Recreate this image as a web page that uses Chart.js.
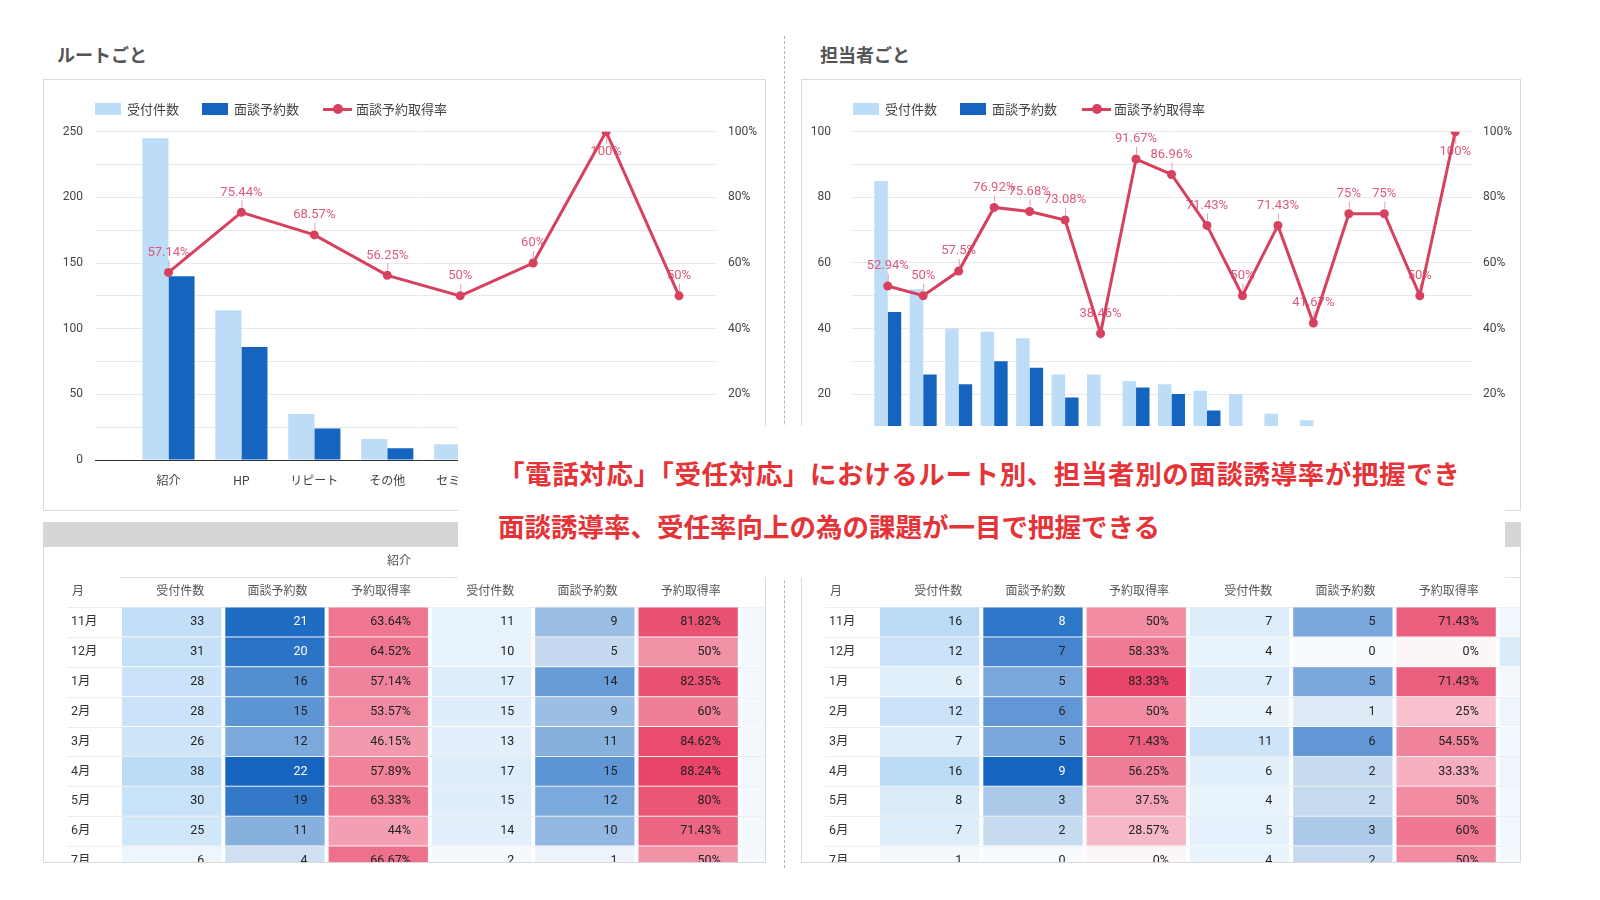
<!DOCTYPE html>
<html lang="ja">
<head>
<meta charset="utf-8">
<title>ルートごと / 担当者ごと</title>
<script src="https://cdn.jsdelivr.net/npm/chart.js@4.4.0/dist/chart.umd.min.js"></script>
<style>
  html, body { margin: 0; padding: 0; background: #fff; }
  body { width: 1600px; height: 900px; position: relative; overflow: hidden; font-family: "Noto Sans CJK JP", sans-serif; }
  .abs { position: absolute; }
  .frame { position: absolute; border: 1px solid #d9d9d9; box-sizing: border-box; }
  .title { position: absolute; font-size: 18px; font-weight: 700; color: #555; line-height: 1; white-space: nowrap; }
  .lg-box { position: absolute; width: 26px; height: 12px; }
  .lg-txt { position: absolute; font-size: 13px; color: #444; line-height: 18px; white-space: nowrap; }
  .lg-line { position: absolute; width: 29px; height: 3px; background: #d8405f; }
  .lg-dot { position: absolute; width: 10px; height: 10px; border-radius: 50%; background: #d8405f; }
  .clip { position: absolute; overflow: hidden; }
  .banner { position: absolute; background: #fff; z-index: 10; }
  .banner div { position: absolute; left: 40px; font-size: 26.5px; font-weight: 700; color: #e53338; line-height: 1; white-space: nowrap; }
</style>
</head>
<body>

<div class="abs" style="left:784px;top:36px;height:832px;border-left:1px dashed #b5b5b5;"></div>

<div class="title" style="left:57px;top:45px;">ルートごと</div>
<div class="title" style="left:820px;top:45px;">担当者ごと</div>

<div class="frame" style="left:43px;top:79px;width:723px;height:432px;"></div>
<div class="frame" style="left:801px;top:79px;width:720px;height:432px;"></div>

<canvas id="routeChart" class="abs" width="722" height="431" style="left:43px;top:79px;"></canvas>
<canvas id="staffChart" class="abs" width="719" height="431" style="left:801px;top:79px;"></canvas>

<!-- legends -->
<div class="lg-box" style="left:95px;top:103px;background:#bcdcf7;"></div>
<div class="lg-txt" style="left:127px;top:100px;">受付件数</div>
<div class="lg-box" style="left:202px;top:103px;background:#1565c0;"></div>
<div class="lg-txt" style="left:234px;top:100px;">面談予約数</div>
<div class="lg-line" style="left:323px;top:108px;"></div>
<div class="lg-dot" style="left:333px;top:104px;"></div>
<div class="lg-txt" style="left:356px;top:100px;">面談予約取得率</div>

<div class="lg-box" style="left:853px;top:103px;background:#bcdcf7;"></div>
<div class="lg-txt" style="left:885px;top:100px;">受付件数</div>
<div class="lg-box" style="left:960px;top:103px;background:#1565c0;"></div>
<div class="lg-txt" style="left:992px;top:100px;">面談予約数</div>
<div class="lg-line" style="left:1082px;top:108px;"></div>
<div class="lg-dot" style="left:1092px;top:104px;"></div>
<div class="lg-txt" style="left:1114px;top:100px;">面談予約取得率</div>

<!-- tables -->
<div class="frame" style="left:43px;top:522px;width:723px;height:341px;"></div>
<div class="abs" style="left:43px;top:522px;width:723px;height:25px;background:#d6d6d6;"></div>
<div class="clip" style="left:43px;top:547px;width:722px;height:315px;">
  <canvas id="routeTable" width="722" height="333"></canvas>
</div>

<div class="frame" style="left:801px;top:522px;width:720px;height:341px;"></div>
<div class="abs" style="left:801px;top:522px;width:720px;height:25px;background:#d6d6d6;"></div>
<div class="clip" style="left:801px;top:547px;width:719px;height:315px;">
  <canvas id="staffTable" width="719" height="333"></canvas>
</div>

<div class="banner" style="left:458px;top:426px;width:1047px;height:152px;">
  <div style="top:34px;letter-spacing:0.6px;">「電話対応」「受任対応」におけるルート別、担当者別の面談誘導率が把握でき</div>
  <div style="top:87px;">面談誘導率、受任率向上の為の課題が一目で把握できる</div>
</div>

<script>
// ---- data ----
const routeLabels = ["紹介", "HP", "リピート", "その他", "セミナー", "広告", "SNS", "チラシ"];
const routeIntake = [245, 114, 35, 16, 12, 5, 2, 2];
const routeBooked = [140, 86, 24, 9, 6, 3, 2, 1];
const routeRate = [57.14, 75.44, 68.57, 56.25, 50, 60, 100, 50];

const staffLabels = ["担当A", "担当B", "担当C", "担当D", "担当E", "担当F", "担当G", "担当H", "担当I",
  "担当J", "担当K", "担当L", "担当M", "担当N", "担当O", "担当P", "担当Q"];
const staffIntake = [85, 52, 40, 39, 37, 26, 26, 24, 23, 21, 20, 14, 12, 8, 8, 4, 2];
const staffBooked = [45, 26, 23, 30, 28, 19, 10, 22, 20, 15, 10, 10, 5, 6, 6, 2, 2];
const staffRate = [52.94, 50, 57.5, 76.92, 75.68, 73.08, 38.46, 91.67, 86.96, 71.43, 50, 71.43, 41.67, 75, 75, 50, 100];

const routeCountTicks = [0, 50, 100, 150, 200, 250];
const staffCountTicks = [0, 20, 40, 60, 80, 100];
const pctTicks = [0, 20, 40, 60, 80, 100];

const tableMonths = ["11月", "12月", "1月", "2月", "3月", "4月", "5月", "6月", "7月"];
const monthHeader = "月";
const tableHeaders = ["受付件数", "面談予約数", "予約取得率"];

// ルート別 (紹介 / HP / ...)
const routeGroups = ["紹介", "HP"];
const tIntakeA = [33, 31, 28, 28, 26, 38, 30, 25, 6];
const tBookedA = [21, 20, 16, 15, 12, 22, 19, 11, 4];
const tRateA = [63.64, 64.52, 57.14, 53.57, 46.15, 57.89, 63.33, 44, 66.67];
const tIntakeB = [11, 10, 17, 15, 13, 17, 15, 14, 2];
const tBookedB = [9, 5, 14, 9, 11, 15, 12, 10, 1];
const tRateB = [81.82, 50, 82.35, 60, 84.62, 88.24, 80, 71.43, 50];
const tIntakeC = [4, 3, 5, 4, 3, 5, 4, 3, 2];

// 担当者別
const staffGroups = ["", ""];
const sIntakeA = [16, 12, 6, 12, 7, 16, 8, 7, 1];
const sBookedA = [8, 7, 5, 6, 5, 9, 3, 2, 0];
const sRateA = [50, 58.33, 83.33, 50, 71.43, 56.25, 37.5, 28.57, 0];
const sIntakeB = [7, 4, 7, 4, 11, 6, 4, 5, 4];
const sBookedB = [5, 0, 5, 1, 6, 2, 2, 3, 2];
const sRateB = [71.43, 0, 71.43, 25, 54.55, 33.33, 50, 60, 50];
const sIntakeC = [2, 8, 1, 3, 2, 3, 2, 2, 1];

// ---- styles ----
const LIGHT = "#bcdcf7";
const DARK = "#1565c0";
const RED = "#d8405f";
const LABEL_RED = "#dc5b7a";
const FONT = 'Roboto, "Noto Sans CJK JP", sans-serif';

Chart.defaults.font.family = FONT;
Chart.defaults.color = "#444";

const gridColor = (c) => (c.tick && c.tick.value === 0 ? "#333" : "#e9e9e9");

// labels on the rate line, drawn under the line itself
const rateLabels = {
  id: "rateLabels",
  beforeDatasetDraw(chart, args) {
    if (args.index !== 2) return;
    const ctx = chart.ctx;
    const data = chart.data.datasets[2].data;
    ctx.save();
    ctx.font = "13px " + FONT;
    ctx.fillStyle = LABEL_RED;
    ctx.strokeStyle = "rgba(220,91,122,0.6)";
    ctx.lineWidth = 1;
    ctx.textAlign = "center";
    ctx.textBaseline = "middle";
    args.meta.data.forEach((pt, i) => {
      const v = data[i];
      const dir = v >= 99 ? 1 : -1;
      ctx.beginPath();
      ctx.moveTo(pt.x + 0.5, pt.y + dir * 5);
      ctx.lineTo(pt.x + 0.5, pt.y + dir * 12);
      ctx.stroke();
      ctx.fillText(v + "%", pt.x, pt.y + dir * 20);
    });
    ctx.restore();
  }
};

function comboChart(id, labels, intake, booked, rate, cfg) {
  const ctx = document.getElementById(id);
  return new Chart(ctx, {
    type: "bar",
    data: {
      labels,
      datasets: [
        { label: "受付件数", data: intake, backgroundColor: LIGHT, yAxisID: "y", order: 1,
          categoryPercentage: cfg.catPct, barPercentage: 1 },
        { label: "面談予約数", data: booked, backgroundColor: DARK, yAxisID: "y", order: 1,
          categoryPercentage: cfg.catPct, barPercentage: 1 },
        { type: "line", label: "面談予約取得率", data: rate, yAxisID: "y1", order: 0,
          borderColor: RED, backgroundColor: RED, borderWidth: 3, tension: 0,
          pointRadius: 4.5, pointBorderWidth: 0, pointBackgroundColor: RED }
      ]
    },
    options: {
      responsive: false,
      animation: false,
      events: [],
      layout: { padding: { top: 52.7, bottom: 0, left: 0, right: 0 } },
      plugins: { legend: { display: false }, tooltip: { enabled: false } },
      scales: {
        x: {
          grid: { display: false },
          border: { display: false },
          ticks: { color: "#444", font: { size: 12 }, padding: 7, maxRotation: 0, autoSkip: false },
          afterFit: (s) => { s.height = cfg.bottomH; }
        },
        y: {
          position: "left",
          min: 0,
          max: cfg.yMax,
          border: { display: false },
          grid: { color: gridColor, tickColor: gridColor, tickLength: cfg.tickLen },
          ticks: {
            stepSize: cfg.yStep, padding: cfg.yPad, color: "#444", font: { size: 12 },
            callback: (v) => (cfg.yTicks.includes(v) ? v : "")
          },
          afterFit: (s) => { s.width = cfg.leftW; }
        },
        y1: {
          position: "right",
          min: 0,
          max: 100,
          border: { display: false },
          grid: { drawOnChartArea: false, drawTicks: false },
          ticks: {
            stepSize: 10, padding: cfg.rPad, color: "#444", font: { size: 12 },
            callback: (v) => (pctTicks.includes(v) ? v + "%" : "")
          },
          afterFit: (s) => { s.width = cfg.rightW; }
        }
      }
    },
    plugins: [rateLabels]
  });
}

comboChart("routeChart", routeLabels, routeIntake, routeBooked, routeRate, {
  catPct: 0.715, yMax: 250, yStep: 25, yTicks: routeCountTicks,
  tickLen: 37, yPad: 12, leftW: 89, rPad: 12.5, rightW: 49.5, bottomH: 50
});

comboChart("staffChart", staffLabels, staffIntake, staffBooked, staffRate, {
  catPct: 0.76, yMax: 100, yStep: 10, yTicks: staffCountTicks,
  tickLen: 18, yPad: 21, leftW: 69, rPad: 10, rightW: 47, bottomH: 50.3
});

// ---- heat-map tables ----
const PITCH = 103.3;
const MONTH_W = 77;
const GAP = 2;
const HEAT = {
  intake: [[248, 251, 254], [187, 219, 246]],
  booked: [[248, 251, 254], [21, 101, 192]],
  rate: [[253, 246, 247], [233, 69, 106]]
};

function heat(kind, t) {
  const [a, b] = HEAT[kind];
  return "rgb(" + a.map((x, i) => Math.round(x + (b[i] - x) * t)).join(",") + ")";
}

function tableChart(id, width, cols, groups) {
  const maxOf = (kind) => Math.max(...cols.filter((c) => c.kind === kind).flatMap((c) => c.values));
  const max = { intake: maxOf("intake"), booked: maxOf("booked"), rate: maxOf("rate") };
  const g = GAP / PITCH;

  const datasets = cols.map((c, k) => ({
    data: c.values.map(() => [k + g, k + 1 - g]),
    backgroundColor: c.values.map((v) => heat(c.kind, v / max[c.kind])),
    barPercentage: 1,
    categoryPercentage: 0.966,
    grouped: false
  }));

  const cellText = {
    id: "cellText",
    beforeDatasetsDraw(chart) {
      const ctx = chart.ctx;
      const area = chart.chartArea;
      const xs = chart.scales.x;
      const pitch = (area.bottom - area.top) / tableMonths.length;
      ctx.save();
      ctx.strokeStyle = "#ececec";
      ctx.lineWidth = 1;
      for (let i = 0; i <= tableMonths.length; i++) {
        const y = Math.round(area.top + i * pitch) + 0.5;
        ctx.beginPath();
        ctx.moveTo(24, y);
        ctx.lineTo(area.right, y);
        ctx.stroke();
      }
      ctx.strokeStyle = "#e2e2e2";
      ctx.beginPath();
      ctx.moveTo(xs.getPixelForValue(0), 30.5);
      ctx.lineTo(area.right, 30.5);
      ctx.stroke();
      ctx.restore();
    },
    afterDatasetsDraw(chart) {
      const ctx = chart.ctx;
      const xs = chart.scales.x;
      const ys = chart.scales.y;
      ctx.save();
      ctx.font = "12.5px " + FONT;
      ctx.textBaseline = "middle";

      ctx.textAlign = "right";
      ctx.fillStyle = "#555";
      ctx.font = "12px " + FONT;
      cols.forEach((c, k) => ctx.fillText(c.header, xs.getPixelForValue(k + 1 - g) - 17, 45));
      groups.forEach((name, gi) => ctx.fillText(name, xs.getPixelForValue(gi * 3 + 3 - g) - 17, 15));

      ctx.textAlign = "left";
      ctx.fillText(monthHeader, 29, 45);
      ctx.font = "12.5px " + FONT;
      ctx.fillStyle = "#333";
      tableMonths.forEach((m, i) => ctx.fillText(m, 28, ys.getPixelForValue(i)));

      ctx.textAlign = "right";
      cols.forEach((c, k) => {
        chart.getDatasetMeta(k).data.forEach((bar, i) => {
          const v = c.values[i];
          const t = v / max[c.kind];
          ctx.fillStyle = c.kind === "booked" && t >= 0.88 ? "#fff" : "#222";
          ctx.fillText(c.kind === "rate" ? v + "%" : String(v), bar.x - 17, bar.y);
        });
      });
      ctx.restore();
    }
  };

  return new Chart(document.getElementById(id), {
    type: "bar",
    data: { labels: tableMonths, datasets },
    options: {
      indexAxis: "y",
      responsive: false,
      animation: false,
      events: [],
      layout: { padding: { top: 60, bottom: 4, left: 0, right: 0 } },
      plugins: { legend: { display: false }, tooltip: { enabled: false } },
      scales: {
        x: { type: "linear", display: false, min: -MONTH_W / PITCH, max: (width - MONTH_W) / PITCH },
        y: { display: false }
      }
    },
    plugins: [cellText]
  });
}

tableChart("routeTable", 722, [
  { kind: "intake", header: tableHeaders[0], values: tIntakeA },
  { kind: "booked", header: tableHeaders[1], values: tBookedA },
  { kind: "rate", header: tableHeaders[2], values: tRateA },
  { kind: "intake", header: tableHeaders[0], values: tIntakeB },
  { kind: "booked", header: tableHeaders[1], values: tBookedB },
  { kind: "rate", header: tableHeaders[2], values: tRateB },
  { kind: "intake", header: tableHeaders[0], values: tIntakeC }
], routeGroups);

tableChart("staffTable", 719, [
  { kind: "intake", header: tableHeaders[0], values: sIntakeA },
  { kind: "booked", header: tableHeaders[1], values: sBookedA },
  { kind: "rate", header: tableHeaders[2], values: sRateA },
  { kind: "intake", header: tableHeaders[0], values: sIntakeB },
  { kind: "booked", header: tableHeaders[1], values: sBookedB },
  { kind: "rate", header: tableHeaders[2], values: sRateB },
  { kind: "intake", header: tableHeaders[0], values: sIntakeC }
], staffGroups);
</script>
</body>
</html>
